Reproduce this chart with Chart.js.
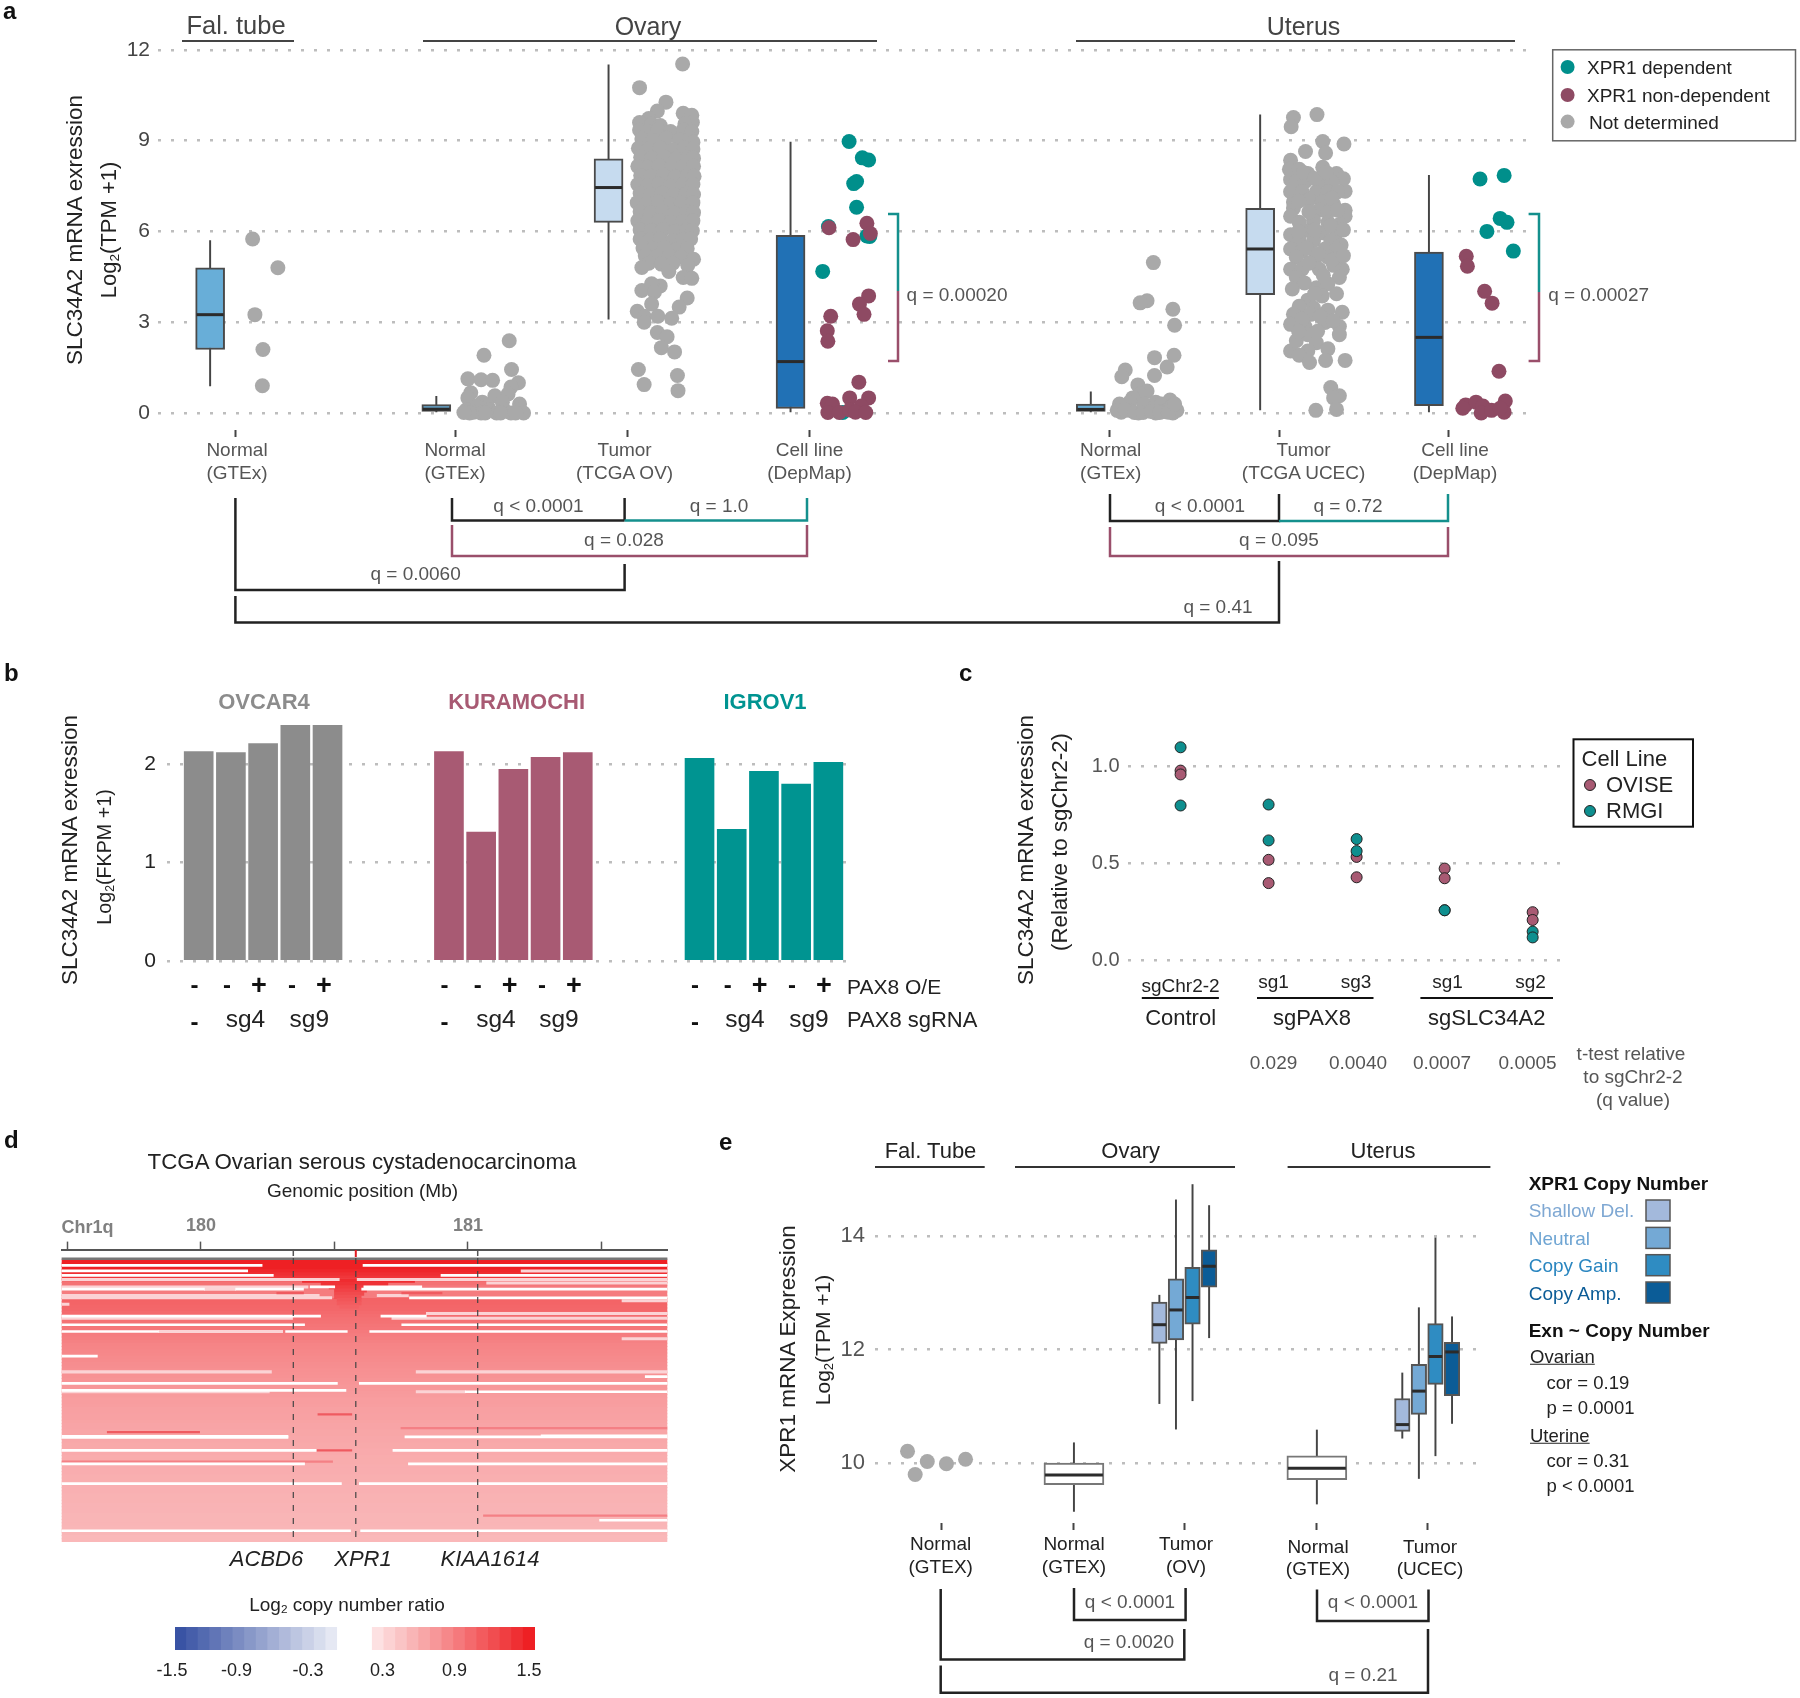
<!DOCTYPE html>
<html>
<head>
<meta charset="utf-8">
<title>SLC34A2 and XPR1 expression</title>
<script src="https://cdn.jsdelivr.net/npm/chart.js@4"></script>
<style>
    body { margin: 0; background: #fff; }
    #page { position: relative; width: 1800px; height: 1698px; overflow: hidden; font-family: "Liberation Sans", Arial, sans-serif; }
    #page canvas { position: absolute; }
    #page svg { position: absolute; left: 0; top: 0; }
    .t { position: absolute; white-space: nowrap; line-height: 1; }
    .t sub { font-size: .62em; vertical-align: -.25em; line-height: 0; }
</style>
</head>
<body>
<div id="page"></div>
<script>
// panel a: x positions are in track units, 1.742 units per screen pixel
const trackTicksA = [410, 793, 1093, 1410, 1933, 2228, 2523];
const yTicksA = [0, 3, 6, 9, 12];
const boxCentersA = [366, 760, 1060, 1377, 1900, 2195, 2489];
const boxLowA = [0.9, 0, 3.1, 0, 0, 0.1, 0];
const boxQ1A = [2.1, 0.05, 6.3, 0.15, 0.05, 3.91, 0.24];
const boxMedA = [3.25, 0.13, 7.45, 1.7, 0.12, 5.42, 2.5];
const boxQ3A = [4.8, 0.28, 8.4, 5.87, 0.3, 6.76, 5.32];
const boxHighA = [5.7, 0.55, 11.5, 8.95, 0.7, 9.85, 7.85];

const falTubeNormal = [[440, 5.75], [484, 4.8], [444, 3.25], [458, 2.1], [457, 0.9]];
const ovaryNormal = [
    [887, 2.39], [843, 1.91], [891, 1.44], [815, 1.13], [838, 1.1], [858, 1.08], [903, 1.0], [890, 0.86],
    [820, 0.67], [815, 0.5], [862, 0.57], [840, 0.36], [885, 0.63], [875, 0.36], [830, 0.23], [850, 0.2],
    [905, 0.3], [812, 0.1], [825, 0.03], [838, 0], [852, 0.1], [865, 0], [878, 0.1], [890, 0], [903, 0.1],
    [912, 0], [818, 0], [845, 0], [872, 0], [898, 0], [808, 0.02]
];
const ovaryTumor = [
    [1189, 11.53], [1114, 10.75], [1160, 10.27], [1145, 9.98], [1130, 9.73], [1114, 9.6], [1190, 9.9], [1205, 9.84], [1206, 9.6],
    [1135, 9.55], [1150, 9.5], [1193, 9.55],
    [1114, 9.35], [1128, 9.3], [1146, 9.35], [1168, 9.3], [1190, 9.35], [1205, 9.3],
    [1118, 9.05], [1137, 9.0], [1160, 9.08], [1183, 9.02], [1202, 9.05], [1207, 8.95],
    [1112, 8.75], [1130, 8.72], [1150, 8.76], [1172, 8.7], [1192, 8.75], [1207, 8.72],
    [1116, 8.45], [1135, 8.42], [1157, 8.46], [1178, 8.4], [1198, 8.44], [1208, 8.42],
    [1111, 8.15], [1128, 8.12], [1148, 8.16], [1170, 8.1], [1190, 8.14], [1208, 8.15],
    [1116, 7.85], [1134, 7.82], [1155, 7.86], [1176, 7.8], [1197, 7.84], [1209, 7.82],
    [1111, 7.55], [1128, 7.52], [1148, 7.56], [1168, 7.5], [1189, 7.54], [1207, 7.55],
    [1115, 7.25], [1133, 7.22], [1153, 7.26], [1174, 7.2], [1195, 7.24], [1208, 7.22],
    [1110, 6.95], [1127, 6.92], [1147, 6.96], [1167, 6.9], [1187, 6.94], [1207, 6.95],
    [1115, 6.65], [1134, 6.62], [1154, 6.66], [1175, 6.6], [1196, 6.64], [1208, 6.62],
    [1111, 6.35], [1128, 6.32], [1148, 6.36], [1169, 6.3], [1190, 6.34], [1207, 6.35],
    [1115, 6.05], [1134, 6.02], [1155, 6.06], [1176, 6.0], [1196, 6.04], [1206, 6.02],
    [1115, 5.75], [1132, 5.72], [1150, 5.76], [1172, 5.7], [1190, 5.74], [1203, 5.75],
    [1120, 5.45], [1138, 5.42], [1158, 5.46], [1178, 5.4], [1197, 5.44],
    [1124, 5.2], [1144, 5.18], [1166, 5.2], [1186, 5.15], [1130, 4.95], [1152, 4.92], [1172, 4.95],
    [1208, 5.08], [1198, 4.88], [1118, 4.81], [1165, 4.68], [1190, 4.48], [1205, 4.45], [1150, 4.2], [1118, 4.05],
    [1135, 4.27], [1140, 4.0], [1197, 3.8], [1135, 3.6], [1183, 3.5], [1110, 3.36], [1122, 3.2], [1146, 3.2],
    [1170, 3.13], [1122, 3.0], [1145, 2.66], [1162, 2.52], [1152, 2.16], [1175, 2.02], [1112, 1.44], [1180, 1.24],
    [1122, 0.94], [1181, 0.74]
];
const ovaryCellDep = [
    [1479, 8.97], [1502, 8.43], [1513, 8.36], [1492, 7.65], [1487, 7.58], [1492, 6.8], [1443, 6.16], [1510, 5.85],
    [1515, 5.83], [1433, 4.68], [1468, 0.02]
];
const ovaryCellNon = [
    [1444, 6.12], [1510, 6.27], [1516, 5.93], [1486, 5.73], [1513, 3.87], [1497, 3.6], [1505, 3.26], [1447, 3.2],
    [1441, 2.72], [1442, 2.37], [1496, 1.02], [1441, 0.32], [1450, 0.3], [1480, 0.5], [1513, 0.5], [1442, 0.02],
    [1462, 0.02], [1480, 0.1], [1500, 0.23], [1490, 0.03], [1508, 0.02]
];
const uterusNormal = [
    [2009, 4.97], [1998, 3.71], [1986, 3.64], [2043, 3.43], [2046, 2.9], [2011, 1.83], [2045, 1.91], [2033, 1.52],
    [1960, 1.42], [1954, 1.2], [2011, 1.24], [1982, 0.93], [1998, 0.73], [1986, 0.63], [1973, 0.5], [2038, 0.43],
    [1950, 0.3], [1968, 0.36], [2013, 0.36], [2023, 0.3], [2043, 0.27], [1953, 0.03], [1968, 0.09], [1983, 0],
    [1998, 0.09], [2013, 0], [2028, 0.05], [2043, 0], [2050, 0.09], [1946, 0.09], [1993, 0.3], [2008, 0.16], [2036, 0.12],
    [1960, 0.1], [1976, 0.02], [1991, 0.02], [2005, 0.05], [2020, 0.02], [2035, 0.03], [2046, 0.3]
];
const uterusTumor = [
    [2294, 9.86], [2253, 9.76], [2249, 9.46], [2304, 8.97], [2341, 8.89], [2274, 8.64], [2309, 8.59], [2248, 8.35],
    [2304, 8.12], [2246, 8.05], [2263, 8.05], [2278, 7.91], [2328, 7.91], [2340, 7.74], [2248, 7.71], [2258, 7.64],
    [2273, 7.64], [2303, 7.71], [2320, 7.64], [2343, 7.33], [2248, 7.31], [2268, 7.31], [2293, 7.31], [2313, 7.31],
    [2330, 7.31], [2253, 6.97], [2280, 7.04], [2303, 6.97], [2323, 6.9], [2343, 6.7], [2253, 6.77], [2248, 6.5],
    [2298, 6.7], [2313, 6.63], [2343, 6.5], [2263, 6.3], [2288, 6.36], [2313, 6.3], [2333, 6.23], [2248, 5.89],
    [2273, 6.03], [2303, 5.96], [2328, 5.96], [2263, 5.69], [2288, 5.69], [2318, 5.69], [2336, 5.55], [2248, 5.42],
    [2268, 5.35], [2308, 5.42], [2328, 5.42], [2258, 5.15], [2290, 5.08], [2313, 5.15], [2338, 4.75], [2248, 4.75],
    [2268, 4.75], [2298, 4.75], [2323, 4.88], [2333, 4.48], [2258, 4.48], [2251, 4.1], [2293, 4.14], [2313, 4.27],
    [2328, 3.94], [2303, 3.87], [2278, 3.73], [2263, 3.53], [2288, 3.47], [2313, 3.4], [2338, 3.33], [2253, 3.26],
    [2283, 3.26], [2248, 2.93], [2273, 2.86], [2333, 2.86], [2308, 2.99], [2248, 2.05], [2333, 2.59], [2278, 2.59],
    [2258, 2.39], [2293, 2.32], [2313, 2.12], [2278, 2.05], [2263, 1.91], [2343, 1.74], [2281, 1.67], [2309, 1.74],
    [2318, 0.84], [2333, 0.57], [2323, 0.5], [2328, 0.12], [2292, 0.09],
    [2270, 7.95], [2290, 7.75], [2310, 7.95], [2262, 7.0], [2320, 7.1], [2280, 6.65], [2330, 6.7], [2262, 6.0],
    [2290, 6.05], [2318, 6.2], [2340, 6.05], [2276, 5.45], [2296, 5.25], [2320, 5.05], [2340, 5.2], [2280, 4.95],
    [2305, 4.55], [2272, 4.3], [2290, 3.95], [2268, 3.1], [2300, 3.2], [2322, 3.05], [2262, 2.7], [2295, 2.7]
];
const uterusCellDep = [[2578, 7.73], [2620, 7.85], [2613, 6.43], [2625, 6.3], [2590, 6.0], [2636, 5.35]];
const uterusCellNon = [
    [2554, 5.18], [2556, 4.85], [2586, 4.02], [2599, 3.63], [2611, 1.38], [2622, 0.4], [2553, 0.27], [2571, 0.36],
    [2583, 0.23], [2548, 0.16], [2580, 0], [2598, 0.09], [2620, 0.03], [2613, 0.16]
];

// panel b
const cellLinesB = ["OVCAR4", "KURAMOCHI", "IGROV1"];
const groupStartB = [0, 7.77, 15.55];
const yTicksB = [0, 1, 2];
const ovcar4 = [2.13, 2.12, 2.21, 2.4, 2.4];
const kuramochi = [2.13, 1.31, 1.95, 2.07, 2.12];
const igrov1 = [2.06, 1.34, 1.93, 1.8, 2.02];
const pax8OE = ["-", "-", "+", "-", "+"];

// panel c: x is the guide index
const yTicksC = [0, 0.5, 1];
const guidesC = ["sgChr2-2", "sg1", "sg3", "sg1", "sg2"];
const qValuesC = ["0.029", "0.0040", "0.0007", "0.0005"];
const oviseGuide = [0, 0, 1, 1, 2, 2, 3, 3, 4, 4];
const oviseValues = [0.98, 0.96, 0.52, 0.4, 0.535, 0.43, 0.475, 0.425, 0.25, 0.21];
const rmgiGuide = [0, 0, 1, 1, 2, 2, 3, 3, 4, 4];
const rmgiValues = [1.1, 0.8, 0.805, 0.62, 0.627, 0.565, 0.26, 0.26, 0.15, 0.12];

// panel d: samples are rows, position in Mb
const mbTicks = [179.5, 180, 180.5, 181, 181.5];
const mbStart = 179.478;
const mbEnd = 181.747;
const sampleRatio = [
    1.5, 1.5, 1.5, 1.45, 1.4, 1.35, 1.0, 0.95, 0.9, 0.88, 0.88, 0.88, 1.05, 1.04, 1.03, 1.02, 1.0, 0.98, 0.96, 0.95,
    0.93, 0.92, 0.9, 0.88, 0.86, 0.85, 0.83, 0.82, 0.81, 0.8, 0.79, 0.78, 0.77, 0.76, 0.75, 0.74, 0.73, 0.72, 0.71, 0.7,
    0.69, 0.68, 0.67, 0.66, 0.66, 0.65, 0.64, 0.64, 0.63, 0.63, 0.62, 0.61, 0.61, 0.6, 0.6, 0.59, 0.59, 0.58, 0.58, 0.57,
    0.57, 0.56, 0.56, 0.56, 0.55, 0.55, 0.55, 0.54, 0.54, 0.54, 0.53, 0.53, 0.53, 0.52, 0.52, 0.52, 0.51, 0.51, 0.51, 0.5,
    0.5, 0.5, 0.5, 0.49, 0.49, 0.49, 0.48, 0.48
];
// [row, start Mb, end Mb]
const noDataSegments = [
    [1.16, 179.478, 180.229], [1.16, 180.607, 181.747], [2.9, 179.478, 180.175], [4.3, 179.478, 180.271], [4.3, 180.899, 181.747],
    [7.9, 180.409, 180.501], [7.9, 180.61, 180.827], [8.6, 179.478, 180.013], [8.6, 180.13, 180.384], [8.6, 180.602, 181.747],
    [11.3, 180.781, 181.747], [17, 179.478, 180.448], [17, 180.674, 180.844], [19.7, 179.478, 180.388], [19.7, 180.752, 181.747],
    [21.8, 179.478, 179.841], [21.8, 180.317, 180.548], [21.8, 180.632, 181.747], [29.5, 179.478, 179.612], [35.9, 181.664, 181.747],
    [38, 179.478, 180.511], [38, 180.593, 181.747], [40.2, 179.478, 180.543], [40.6, 180.99, 181.747], [54.5, 179.478, 180.326],
    [54.9, 179.478, 180.326], [54.7, 180.764, 181.747], [54.4, 181.274, 181.747], [58.9, 179.478, 180.431], [58.9, 180.719, 181.747],
    [63.1, 179.478, 180.388], [63.1, 180.777, 181.747], [69.3, 179.478, 180.526], [69.3, 180.593, 181.747], [80.7, 181.493, 181.747],
    [84, 179.478, 180.56], [84, 180.598, 181.747]
];
const paleSegments = [
    [5.6, 179.478, 180.518], [5.6, 180.585, 181.07], [5.6, 181.07, 181.747], [6.7, 181.07, 181.747], [2.9, 181.199, 181.747],
    [7.9, 179.478, 180.401], [8.6, 180.013, 180.13], [10.6, 179.478, 180.443], [10.6, 180.66, 180.777], [11.3, 179.478, 180.49],
    [12.2, 181.577, 181.747], [13.3, 179.478, 179.506], [16.2, 180.844, 181.747], [17.7, 179.478, 180.343], [17.7, 180.715, 181.747],
    [21.8, 179.841, 180.306], [24.1, 181.577, 181.747], [34.4, 179.478, 180.264], [34.4, 180.806, 181.747], [40.6, 179.478, 180.256],
    [40.6, 180.806, 180.99]
];
const gainSegments = [
    [9.8, 180.284, 180.384], [9.8, 180.752, 180.903], [47.7, 180.438, 180.565], [53.2, 179.649, 179.995], [58.9, 180.435, 180.565]
];
const weakGainSegments = [[52, 180.749, 181.747], [62.4, 179.478, 180.493], [79.3, 181.058, 181.747]];
const focalSegments = [
    [6, 180.38, 180.8], [7, 180.45, 180.7], [8, 180.48, 180.66], [9, 180.5, 180.62], [10, 180.5, 180.61],
    [11, 180.5, 180.6], [12, 180.51, 180.6], [13, 180.51, 180.6], [14, 180.52, 180.59]
];
const focalRatio = [1.42, 1.38, 1.32, 1.27, 1.22, 1.18, 1.14, 1.1, 1.06];
const colorbarSteps = [
    -1.5, -1.4, -1.3, -1.2, -1.1, -1.0, -0.9, -0.8, -0.7, -0.6, -0.5, -0.4, -0.3, -0.2, -0.1, 0,
    0.1, 0.2, 0.3, 0.4, 0.5, 0.6, 0.7, 0.8, 0.9, 1.0, 1.1, 1.2, 1.3, 1.4, 1.5
];

// panel e: x positions are in track units, 1.568 units per screen pixel
const trackTicksE = [347, 555, 728, 936, 1109];
const yTicksE = [10, 12, 14];
const normalCentersE = [555, 936];
const normalLowE = [9.15, 9.28];
const normalQ1E = [9.62, 9.71];
const normalMedE = [9.79, 9.91];
const normalQ3E = [10.0, 10.13];
const normalHighE = [10.36, 10.585];
const tumorCentersE = [689, 715, 741, 767, 1070, 1096, 1122, 1148];
const tumorLowE = [11.05, 10.6, 11.1, 12.21, 10.44, 9.73, 10.13, 10.7];
const tumorQ1E = [12.11, 12.17, 12.45, 13.1, 10.56, 10.86, 11.39, 11.19];
const tumorMedE = [12.44, 12.7, 12.92, 13.47, 10.68, 11.27, 11.88, 11.96];
const tumorQ3E = [12.84, 13.25, 13.45, 13.76, 11.14, 11.74, 12.46, 12.13];
const tumorHighE = [12.96, 14.64, 14.91, 14.54, 11.59, 12.74, 13.97, 12.58];
const falTubeE = [[294, 10.21], [325, 10.03], [355, 9.99], [385, 10.07], [306, 9.8]];

const GRAY = "#a9a9a9";
const TEAL = "#008f8b";
const MAROON = "#8e4a63";
const ROSE = "#a85a73";
const GREEN_BLUE = "#009491";
const CN_COLORS = ["#a3b9dc", "#74a9d5", "#2f8cc2", "#0b5c97"];

const page = document.getElementById("page");
const svgNS = "http://www.w3.org/2000/svg";
const svg = document.createElementNS(svgNS, "svg");
svg.setAttribute("width", 1800);
svg.setAttribute("height", 1698);

function txt(x, y, html, size, color, opts) {
    opts = opts || {};
    const el = document.createElement("div");
    el.className = "t";
    el.innerHTML = html;
    el.style.left = x + "px";
    el.style.top = y + "px";
    el.style.fontSize = size + "px";
    el.style.color = color || "#222";
    if (opts.bold) el.style.fontWeight = "bold";
    if (opts.italic) el.style.fontStyle = "italic";
    if (opts.underline) el.style.textDecoration = "underline";
    let tr = opts.left ? "translate(0,-50%)" : "translate(-50%,-50%)";
    if (opts.rot) tr += " rotate(-90deg)";
    el.style.transform = tr;
    page.appendChild(el);
}

function poly(points, color, width, dash) {
    const p = document.createElementNS(svgNS, "polyline");
    p.setAttribute("points", points.map(a => a.join(",")).join(" "));
    p.setAttribute("fill", "none");
    p.setAttribute("stroke", color);
    p.setAttribute("stroke-width", width || 2);
    if (dash) p.setAttribute("stroke-dasharray", dash);
    svg.appendChild(p);
}

function dot(x, y, r, color, border) {
    const c = document.createElementNS(svgNS, "circle");
    c.setAttribute("cx", x);
    c.setAttribute("cy", y);
    c.setAttribute("r", r);
    c.setAttribute("fill", color);
    if (border) c.setAttribute("stroke", border);
    svg.appendChild(c);
}

function rect(x, y, w, h, fill, stroke, sw) {
    const r = document.createElementNS(svgNS, "rect");
    r.setAttribute("x", x);
    r.setAttribute("y", y);
    r.setAttribute("width", w);
    r.setAttribute("height", h);
    r.setAttribute("fill", fill);
    if (stroke) {
        r.setAttribute("stroke", stroke);
        r.setAttribute("stroke-width", sw || 1.5);
    }
    svg.appendChild(r);
}

function makeCanvas(left, top, w, h) {
    const c = document.createElement("canvas");
    c.width = w;
    c.height = h;
    c.style.left = left + "px";
    c.style.top = top + "px";
    c.style.width = w + "px";
    c.style.height = h + "px";
    page.appendChild(c);
    return c.getContext("2d");
}

function pts(list) {
    return list.map(p => ({ x: p[0], y: p[1] }));
}

function scatterSet(list, color, order, radius) {
    return {
        type: "scatter",
        data: pts(list),
        backgroundColor: color,
        borderColor: color,
        pointRadius: radius || 7.5,
        pointBorderWidth: 0,
        order: order,
        clip: false
    };
}

// whisker, box and median of a group of boxes, all through the chart's own scales
function boxSets(centers, low, q1, med, q3, high, colors, width, edge) {
    return [
        {
            type: "bar",
            data: centers.map((x, i) => ({ x: x, y: [low[i], high[i]] })),
            backgroundColor: "#444",
            barThickness: 1.3,
            grouped: false,
            order: 12
        },
        {
            type: "bar",
            data: centers.map((x, i) => ({ x: x, y: [q1[i], q3[i]] })),
            backgroundColor: colors,
            borderColor: edge,
            borderWidth: 2,
            borderSkipped: false,
            barThickness: width,
            grouped: false,
            order: 11
        },
        {
            type: "scatter",
            data: centers.map((x, i) => ({ x: x, y: med[i] })),
            pointStyle: "line",
            pointRadius: width / 2 - 1,
            borderColor: "#2b2b2b",
            pointBorderColor: "#2b2b2b",
            pointBorderWidth: 3,
            order: 10,
            clip: false
        }
    ];
}

function yAxis(min, max, ticks, width, padding, font, color, fmt) {
    return {
        min: min,
        max: max,
        afterBuildTicks: axis => { axis.ticks = ticks.map(v => ({ value: v })); },
        afterFit: axis => {
            axis.width = width;
            axis.paddingTop = 0;
            axis.paddingBottom = 0;
        },
        border: { display: false, dash: [3, 10] },
        grid: { color: "#bdbdbd", lineWidth: 2.5, drawTicks: false },
        ticks: {
            padding: padding,
            color: color,
            font: { family: "Liberation Sans", size: font },
            callback: fmt || (v => String(v))
        }
    };
}

function xTrackAxis(min, max, ticks, height) {
    return {
        type: "linear",
        min: min,
        max: max,
        offset: false,
        afterBuildTicks: axis => { axis.ticks = ticks.map(v => ({ value: v })); },
        afterFit: axis => {
            axis.height = height;
            axis.paddingLeft = 0;
            axis.paddingRight = 0;
        },
        border: { display: false },
        grid: { offset: false, drawOnChartArea: false, drawTicks: true, tickLength: 7, tickColor: "#444", tickWidth: 2 },
        ticks: { display: false }
    };
}

function baseOptions(padding, scales) {
    return {
        responsive: false,
        animation: false,
        devicePixelRatio: 1,
        layout: { padding: padding, autoPadding: false },
        plugins: { legend: { display: false }, tooltip: { enabled: false } },
        scales: scales
    };
}

// panel a
new Chart(makeCanvas(0, 0, 1800, 445), {
    type: "bar",
    data: {
        datasets: boxSets(boxCentersA, boxLowA, boxQ1A, boxMedA, boxQ3A, boxHighA,
            ["#68aed8", "#68aed8", "#c6dbef", "#2171b5", "#68aed8", "#c6dbef", "#2171b5"], 29, "#4a4a4a").concat([
            scatterSet(falTubeNormal, GRAY, 3),
            scatterSet(ovaryNormal, GRAY, 3),
            scatterSet(ovaryTumor, GRAY, 3),
            scatterSet(uterusNormal, GRAY, 3),
            scatterSet(uterusTumor, GRAY, 3),
            scatterSet(ovaryCellDep, TEAL, 2),
            scatterSet(uterusCellDep, TEAL, 2),
            scatterSet(ovaryCellNon, MAROON, 1),
            scatterSet(uterusCellNon, MAROON, 1)
        ])
    },
    options: baseOptions({ top: 49.8, right: 266 }, {
        x: xTrackAxis(275.2, 2672, trackTicksA, 15),
        y: yAxis(-0.56, 12, yTicksA, 158, 8, 21, "#444")
    })
});

// panel b
const barX = [];
const barY = [];
const barColors = [];
[ovcar4, kuramochi, igrov1].forEach((vals, g) => {
    vals.forEach((v, i) => {
        barX.push(groupStartB[g] + i);
        barY.push(v);
        barColors.push(["#8c8c8c", ROSE, GREEN_BLUE][g]);
    });
});
new Chart(makeCanvas(0, 700, 900, 280), {
    type: "bar",
    data: {
        datasets: [{
            data: barX.map((x, i) => ({ x: x, y: barY[i] })),
            backgroundColor: barColors,
            barThickness: 29,
            grouped: false
        }]
    },
    options: baseOptions({ top: 25, right: 52, bottom: 19 }, {
        x: { type: "linear", display: false, offset: false, grid: { offset: false }, min: -0.984, max: 20.16 },
        y: yAxis(0, 2.4, yTicksB, 167, 11, 21, "#222")
    })
});

// panel c
new Chart(makeCanvas(1000, 710, 700, 270), {
    type: "scatter",
    data: {
        datasets: [
            {
                data: oviseGuide.map((g, i) => ({ x: g, y: oviseValues[i] })),
                backgroundColor: ROSE, borderColor: "#222", pointRadius: 5.5, pointBorderWidth: 1, order: 2, clip: false
            },
            {
                data: rmgiGuide.map((g, i) => ({ x: g, y: rmgiValues[i] })),
                backgroundColor: "#0e8f8f", borderColor: "#222", pointRadius: 5.5, pointBorderWidth: 1, order: 1, clip: false
            }
        ]
    },
    options: baseOptions({ top: 11, right: 133, bottom: 19.3 }, {
        x: { type: "linear", display: false, min: -0.603, max: 4.39 },
        y: yAxis(0, 1.2356, yTicksC, 127.5, 8, 20, "#555", v => v.toFixed(1))
    })
});

// panel d
function ratioColor(v) {
    const a = Math.abs(v);
    if (a < 0.15) return "rgb(255,255,255)";
    const t = Math.min(a / 1.5, 1);
    const end = v > 0 ? [238, 32, 36] : [57, 83, 164];
    return "rgb(" + end.map(c => Math.round(255 + (c - 255) * t)).join(",") + ")";
}

function segSet(list, color, thick, order) {
    return {
        data: list.map(s => ({ y: s[0], x: [s[1], s[2]] })),
        backgroundColor: color,
        barThickness: thick,
        grouped: false,
        order: order
    };
}

new Chart(makeCanvas(0, 1205, 720, 337), {
    type: "bar",
    data: {
        datasets: [
            segSet(noDataSegments, "#ffffff", 2, 1),
            segSet(gainSegments, "#ef5a60", 1.6, 2),
            segSet(weakGainSegments, "#f48085", 1.6, 3),
            segSet(paleSegments, "#fbd3d5", 2.4, 4),
            segSet(focalSegments, focalRatio.map(ratioColor), 3.4, 5),
            {
                data: sampleRatio.map((v, i) => ({ y: i, x: [mbStart, mbEnd] })),
                backgroundColor: sampleRatio.map(ratioColor),
                barThickness: 3.5,
                grouped: false,
                order: 6
            }
        ]
    },
    options: Object.assign(baseOptions({ left: 0, right: 52.6 }, {
        x: {
            type: "linear",
            position: "top",
            min: mbStart,
            max: mbEnd,
            afterBuildTicks: axis => { axis.ticks = mbTicks.map(v => ({ value: v })); },
            afterFit: axis => {
                axis.height = 44.6;
                axis.paddingLeft = 0;
                axis.paddingRight = 0;
            },
            border: { display: true, color: "#555", width: 2 },
            grid: { drawOnChartArea: false, drawTicks: true, tickLength: 8, tickColor: "#555", tickWidth: 1.5 },
            ticks: {
                autoSkip: false,
                maxRotation: 0,
                padding: 5,
                color: "#808080",
                font: { family: "Liberation Sans", size: 18, weight: "bold" },
                callback: v => (Number.isInteger(v) ? String(v) : "")
            }
        },
        y: {
            type: "linear",
            display: true,
            reverse: true,
            offset: false,
            min: -3.75,
            max: 87.5,
            afterFit: axis => { axis.width = 61.6; },
            border: { display: false },
            grid: { display: false, offset: false },
            ticks: { display: false }
        }
    }), { indexAxis: "y" })
});

new Chart(makeCanvas(175, 1627, 360, 23), {
    type: "bar",
    data: {
        datasets: [{
            data: colorbarSteps.map(v => ({ x: v, y: [0, 1] })),
            backgroundColor: colorbarSteps.map(ratioColor),
            barThickness: 12,
            grouped: false
        }]
    },
    options: baseOptions(0, {
        x: { type: "linear", display: false, offset: false, grid: { offset: false }, min: -1.55, max: 1.55 },
        y: { display: false, min: 0, max: 1 }
    })
});

// panel e
new Chart(makeCanvas(720, 1170, 800, 361), {
    type: "bar",
    data: {
        datasets: boxSets(normalCentersE, normalLowE, normalQ1E, normalMedE, normalQ3E, normalHighE,
            ["#ffffff", "#ffffff"], 60, "#777").concat(
            boxSets(tumorCentersE, tumorLowE, tumorQ1E, tumorMedE, tumorQ3E, tumorHighE,
                CN_COLORS.concat(CN_COLORS), 15.5, "#555"),
            [scatterSet(falTubeE, GRAY, 3)])
    },
    options: baseOptions({ top: 5, right: 35 }, {
        x: xTrackAxis(243, 1199.7, trackTicksE, 8),
        y: yAxis(8.946, 15.078, yTicksE, 155, 10, 22, "#555")
    })
});

// overlay for brackets and legend boxes goes above the charts, text goes above it
page.appendChild(svg);

// text and brackets of panel a
txt(3, 11, "a", 24, "#111", { bold: true, left: true });
txt(236, 26, "Fal. tube", 25.5, "#444");
txt(648, 26, "Ovary", 25, "#444");
txt(1303.5, 26, "Uterus", 25, "#444");
poly([[182, 41], [294, 41]], "#444", 2);
poly([[423, 41], [877, 41]], "#444", 2);
poly([[1076, 41], [1515, 41]], "#444", 2);
txt(75, 230, "SLC34A2 mRNA exression", 22.5, "#222", { rot: true });
txt(109, 230, "Log<sub>2</sub>(TPM +1)", 22, "#222", { rot: true });
[[237, "Normal", "(GTEx)"], [455, "Normal", "(GTEx)"], [624.6, "Tumor", "(TCGA OV)"], [809.5, "Cell line", "(DepMap)"],
 [1110.7, "Normal", "(GTEx)"], [1303.6, "Tumor", "(TCGA UCEC)"], [1455, "Cell line", "(DepMap)"]].forEach(a => {
    txt(a[0], 449, a[1], 19, "#555");
    txt(a[0], 472, a[2], 19, "#555");
});
const BLK = "#222";
const BR_TEAL = "#14908d";
const BR_MAROON = "#9a4f6b";
poly([[452, 498], [452, 520.5], [624.6, 520.5]], BLK, 2.5);
poly([[624.6, 498], [624.6, 520.5]], BLK, 2.5);
poly([[624.6, 520.5], [807, 520.5], [807, 498]], BR_TEAL, 2.5);
poly([[452, 525], [452, 556], [807, 556], [807, 525]], BR_MAROON, 2.5);
poly([[235.4, 498], [235.4, 590], [624.6, 590], [624.6, 564]], BLK, 2.5);
poly([[235.4, 596], [235.4, 622.5], [1279, 622.5], [1279, 561]], BLK, 2.5);
poly([[1110, 494], [1110, 521], [1279, 521], [1279, 494]], BLK, 2.5);
poly([[1279, 521], [1448, 521], [1448, 494]], BR_TEAL, 2.5);
poly([[1110, 527], [1110, 556], [1448, 556], [1448, 527]], BR_MAROON, 2.5);
poly([[888, 214], [898, 214], [898, 291]], BR_TEAL, 2.5);
poly([[898, 291], [898, 361], [888, 361]], BR_MAROON, 2.5);
poly([[1528.6, 214], [1539, 214], [1539, 292]], BR_TEAL, 2.5);
poly([[1539, 292], [1539, 361], [1528.6, 361]], BR_MAROON, 2.5);
[[538.5, 505, "q &lt; 0.0001"], [719, 505, "q = 1.0"], [624, 539, "q = 0.028"], [415.6, 572.6, "q = 0.0060"],
 [1200, 505, "q &lt; 0.0001"], [1348, 505, "q = 0.72"], [1279, 539, "q = 0.095"], [1218, 606, "q = 0.41"],
 [957, 294, "q = 0.00020"], [1598.6, 294, "q = 0.00027"]].forEach(a => txt(a[0], a[1], a[2], 19, "#555"));
rect(1552.7, 49.8, 242.8, 91, "#fff", "#666", 1.5);
dot(1567.6, 67, 7, TEAL);
dot(1567.6, 95, 7, MAROON);
dot(1567.6, 121.6, 7, GRAY);
txt(1587, 67, "XPR1 dependent", 19, "#222", { left: true });
txt(1587, 95, "XPR1 non-dependent", 19, "#222", { left: true });
txt(1589, 122, "Not determined", 19, "#222", { left: true });

// text of panel b
txt(4, 673, "b", 24, "#111", { bold: true, left: true });
txt(264, 702, cellLinesB[0], 22, "#8c8c8c", { bold: true });
txt(516.6, 702, cellLinesB[1], 22, ROSE, { bold: true });
txt(765, 702, cellLinesB[2], 22, GREEN_BLUE, { bold: true });
txt(70, 850, "SLC34A2 mRNA exression", 22.5, "#222", { rot: true });
txt(105, 857, "Log<sub>2</sub>(FKPM +1)", 19.7, "#222", { rot: true });
[[194.5, 227, 259, 292, 324], [444.5, 477.7, 509.6, 542, 574], [695, 727.7, 759.6, 792, 824]].forEach(xs => {
    xs.forEach((x, i) => txt(x, 985, pax8OE[i], pax8OE[i] === "+" ? 27 : 24, "#111", { bold: true }));
    txt(xs[0], 1022, "-", 24, "#111", { bold: true });
});
[[245.5, 309.3], [496, 559], [745, 809]].forEach(xs => {
    txt(xs[0], 1019, "sg4", 24.5, "#222");
    txt(xs[1], 1019, "sg9", 24.5, "#222");
});
txt(847, 986, "PAX8 O/E", 21, "#222", { left: true });
txt(847, 1020, "PAX8 sgRNA", 22, "#222", { left: true });

// text of panel c
txt(959, 673, "c", 24, "#111", { bold: true, left: true });
txt(1025.5, 850, "SLC34A2 mRNA exression", 22.5, "#222", { rot: true });
txt(1059.7, 842, "(Relative to sgChr2-2)", 22.3, "#222", { rot: true });
txt(1180.6, 985, guidesC[0], 19, "#222");
txt(1273.5, 981, guidesC[1], 19, "#222");
txt(1356, 981, guidesC[2], 19, "#222");
txt(1447.5, 981, guidesC[3], 19, "#222");
txt(1530.6, 981, guidesC[4], 19, "#222");
poly([[1141.8, 998], [1218.9, 998]], "#111", 2);
poly([[1257, 998], [1373.5, 998]], "#111", 2);
poly([[1420.4, 998], [1553, 998]], "#111", 2);
txt(1180.6, 1018, "Control", 22, "#222");
txt(1312, 1018, "sgPAX8", 22, "#222");
txt(1486.7, 1018, "sgSLC34A2", 22, "#222");
[1273.5, 1358, 1442, 1527.6].forEach((x, i) => txt(x, 1062, qValuesC[i], 19, "#555"));
txt(1631, 1053, "t-test relative", 19, "#555");
txt(1633, 1076, "to sgChr2-2", 19, "#555");
txt(1633, 1099, "(q value)", 19, "#555");
rect(1573.5, 739.3, 119.5, 87.4, "#fff", "#111", 2);
txt(1581.6, 759, "Cell Line", 22, "#222", { left: true });
dot(1590, 785, 5.5, ROSE, "#222");
dot(1590, 811, 5.5, "#0e8f8f", "#222");
txt(1606, 785, "OVISE", 22, "#222", { left: true });
txt(1606, 811, "RMGI", 22, "#222", { left: true });

// text of panel d
txt(4, 1140, "d", 24, "#111", { bold: true, left: true });
txt(362, 1162, "TCGA Ovarian serous cystadenocarcinoma", 22.3, "#222");
txt(362.5, 1190, "Genomic position (Mb)", 19, "#222");
txt(61.6, 1227, "Chr1q", 18, "#808080", { bold: true, left: true });
rect(61.6, 1257.5, 605.8, 2.5, "#777");
poly([[293.3, 1250], [293.3, 1256]], "#555", 1.5);
poly([[355.8, 1250], [355.8, 1257]], "#e01b22", 2);
poly([[477.7, 1250], [477.7, 1256]], "#555", 1.5);
poly([[293.3, 1258], [293.3, 1542]], "#444", 1.2, "6,7");
poly([[355.8, 1258], [355.8, 1542]], "#444", 1.2, "6,7");
poly([[477.7, 1258], [477.7, 1542]], "#444", 1.2, "6,7");
txt(266.5, 1559, "ACBD6", 22, "#222", { italic: true });
txt(363, 1559, "XPR1", 22, "#222", { italic: true });
txt(490, 1559, "KIAA1614", 22, "#222", { italic: true });
txt(347, 1604, "Log<sub>2</sub> copy number ratio", 19, "#222");
[[172, "-1.5"], [236.6, "-0.9"], [308, "-0.3"], [382.6, "0.3"], [454.5, "0.9"], [529, "1.5"]].forEach(a => txt(a[0], 1670, a[1], 18, "#222"));

// text and brackets of panel e
txt(719, 1142, "e", 24, "#111", { bold: true, left: true });
txt(930.5, 1151, "Fal. Tube", 22, "#222");
txt(1130.7, 1151, "Ovary", 22, "#222");
txt(1383, 1151, "Uterus", 22, "#222");
poly([[875, 1167], [984.7, 1167]], "#333", 2);
poly([[1015, 1167], [1235, 1167]], "#333", 2);
poly([[1287.6, 1167], [1490.4, 1167]], "#333", 2);
txt(788, 1349, "XPR1 mRNA Expression", 22.5, "#222", { rot: true });
txt(822, 1340, "Log<sub>2</sub>(TPM +1)", 21, "#222", { rot: true });
[[940.7, 1543, "Normal", "(GTEX)"], [1074, 1543, "Normal", "(GTEX)"], [1186, 1543, "Tumor", "(OV)"],
 [1318, 1545.5, "Normal", "(GTEX)"], [1430, 1545.5, "Tumor", "(UCEC)"]].forEach(a => {
    txt(a[0], a[1], a[2], 19, "#222");
    txt(a[0], a[1] + 22.5, a[3], 19, "#222");
});
poly([[1074, 1588], [1074, 1620], [1185.6, 1620], [1185.6, 1588]], BLK, 2.5);
poly([[1317, 1589.4], [1317, 1621], [1428.5, 1621], [1428.5, 1589.4]], BLK, 2.5);
poly([[940.7, 1589], [940.7, 1659.5], [1184.3, 1659.5], [1184.3, 1629]], BLK, 2.5);
poly([[940.7, 1665.4], [940.7, 1692.7], [1428, 1692.7], [1428, 1629]], BLK, 2.5);
txt(1130, 1601, "q &lt; 0.0001", 19, "#555");
txt(1373, 1601, "q &lt; 0.0001", 19, "#555");
txt(1128.8, 1641, "q = 0.0020", 19, "#555");
txt(1363, 1674, "q = 0.21", 19, "#555");
txt(1528.7, 1182.5, "XPR1 Copy Number", 19, "#111", { bold: true, left: true });
[["Shallow Del.", "#7fa8d3", 1200, 1210], ["Neutral", "#6fa5d3", 1227.4, 1238], ["Copy Gain", "#2a86c0", 1254.7, 1265], ["Copy Amp.", "#0b5c97", 1282, 1292.5]].forEach((a, i) => {
    txt(1528.7, a[3], a[0], 19, a[1], { left: true });
    rect(1646, a[2], 24, 21, CN_COLORS[i], "#555", 1.5);
});
txt(1528.7, 1329.7, "Exn ~ Copy Number", 19, "#111", { bold: true, left: true });
txt(1530, 1357, "Ovarian", 18.5, "#222", { underline: true, left: true });
txt(1546.5, 1382.7, "cor = 0.19", 18.5, "#222", { left: true });
txt(1546.5, 1407.8, "p = 0.0001", 18.5, "#222", { left: true });
txt(1530, 1435.9, "Uterine", 18.5, "#222", { underline: true, left: true });
txt(1546.5, 1460.6, "cor = 0.31", 18.5, "#222", { left: true });
txt(1546.5, 1485.7, "p &lt; 0.0001", 18.5, "#222", { left: true });
</script>
</body>
</html>
